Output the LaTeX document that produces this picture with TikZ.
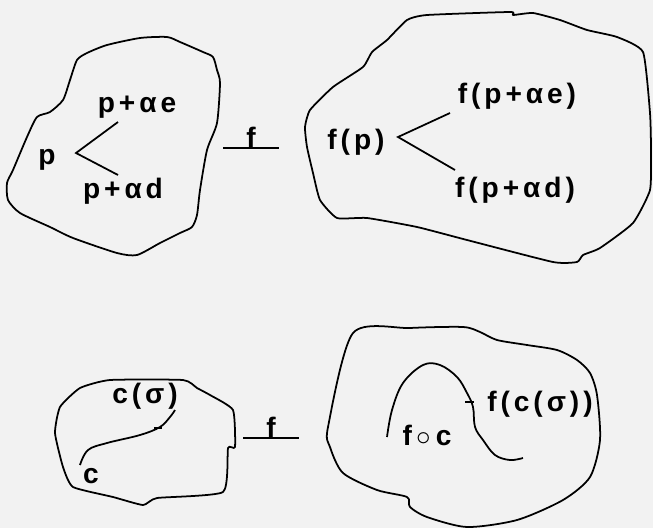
\documentclass[tikz,border=0pt]{standalone}
\usepackage{fontspec}
\setmainfont{Liberation Sans}[LetterSpace=14]
\usepackage{tikz}

\begin{document}
\begin{tikzpicture}[
    x=0.03cm, y=-0.03cm,
    every node/.style={font=\fontsize{24}{28}\bfseries\selectfont, inner sep=0pt},
    region/.style={line width=1.5pt, line join=round},
    vline/.style={line width=1.5pt},
    maplabel/.style={minimum width=55*0.03cm, anchor=south}
]
\fill[black!5] (0,0) rectangle (653,528);
\useasboundingbox (0,0) rectangle (653,528);

% domain and image of the two directions
\draw[region] plot[smooth cycle, tension=0.4] coordinates {
    (77,60) (87,53) (107,45) (140,38) (167,37) (180,42) (203,52) (213,57)
    (217,70) (220,83) (217,123) (207,150) (200,190) (197,215) (192,227)
    (180,233) (160,243) (137,255) (117,253) (73,238) (50,227) (20,213)
    (8,200) (7,183) (13,170) (27,137) (37,117) (50,112) (63,100) (70,80)};
\draw[region] plot[smooth cycle, tension=0.3] coordinates {
    (387,40) (407,20) (427,15) (510,12) (513,15) (533,13) (560,20) (587,30)
    (617,37) (643,52) (650,113) (651,150) (650,190) (633,223) (600,248)
    (583,255) (577,262) (553,262) (467,240) (417,227) (367,218) (337,218)
    (320,200) (313,173) (307,147) (305,127) (310,110) (333,87) (363,67) (372,52)};

\node (p)   at (47,160)  {p};
\node (pe)  at (137,107) {p+αe};
\node (pd)  at (123,191) {p+αd};
\coordinate (apexp) at (76,153);
\coordinate (endpe) at (118,122);
\coordinate (endpd) at (118,175);
\draw[vline] (endpe) -- (apexp) -- (endpd);

\node[maplabel] (fa) at (251,148) {f};
\draw[vline] (fa.south west) -- (fa.south east);

\node (fp)  at (356,142) {f(p)};
\node (fpe) at (517,96)  {f(p+αe)};
\node (fpd) at (515,190) {f(p+αd)};
\coordinate (apexfp) at (398,137);
\coordinate (endfpe) at (450,113);
\coordinate (endfpd) at (455,170);
\draw[vline] (endfpe) -- (apexfp) -- (endfpd);

% the curve and its image
\draw[region] plot[smooth cycle, tension=0.3] coordinates {
    (110,380) (183,380) (197,388) (210,395) (233,410) (235,447) (228,448)
    (223,492) (157,498) (143,505) (113,497) (73,487) (63,467) (55,433)
    (60,407) (80,388)};
\draw[region] plot[smooth cycle, tension=0.45] coordinates {
    (353,333) (410,328) (463,327) (480,332) (497,340) (527,345) (557,350)
    (577,360) (590,373) (597,395) (600,440) (590,477) (563,500) (517,520)
    (467,527) (427,517) (410,507) (407,497) (377,490) (343,473) (330,447)
    (328,427)};

\draw[vline] plot[smooth, tension=0.6] coordinates {
    (80,465) (88,450) (107,443) (140,435) (160,427) (170,417) (175,410)};
\coordinate (csig) at (158,428);
\draw[line width=2.5pt] ([xshift=-4*0.03cm]csig) -- ([xshift=4*0.03cm]csig);
\node (c)    at (91,476)  {c};
\node (cs)   at (145,396) {c(σ)};

\node[maplabel] (fb) at (271,438) {f};
\draw[vline] (fb.south west) -- (fb.south east);

\draw[vline] plot[smooth, tension=0.6] coordinates {
    (387,437) (392,410) (403,383) (423,365) (440,365) (457,377) (467,393)
    (473,407) (475,427) (483,440) (495,455) (510,460) (523,458)};
\coordinate (fcsig) at (470,402);
\draw[line width=2pt] ([xshift=-5*0.03cm]fcsig) -- ([xshift=4*0.03cm]fcsig);
\node (fcs)  at (540,404) {f(c(σ))};
\node (fc)   at (427,435) {f\,$\circ$\,c};
\end{tikzpicture}
\end{document}
